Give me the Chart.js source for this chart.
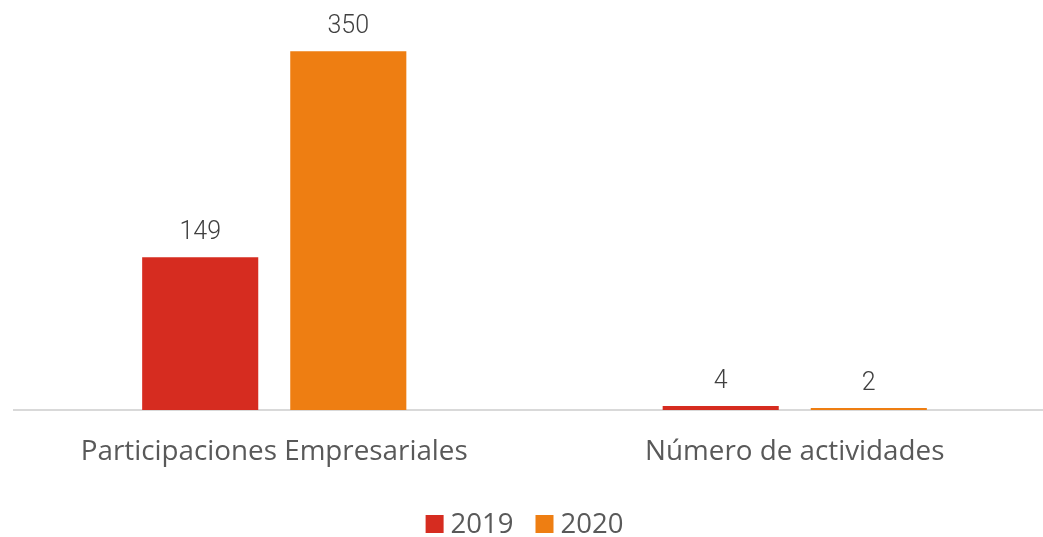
<!DOCTYPE html>
<html>
<head>
<meta charset="utf-8">
<script src="https://cdn.jsdelivr.net/npm/chart.js@4.4.0/dist/chart.umd.min.js"></script>
<style>
  html, body { margin: 0; padding: 0; background: #ffffff; overflow: hidden; }
  #wrap { width: 1060px; height: 537px; position: relative; }
</style>
</head>
<body>
<div id="wrap"><canvas id="c" width="1060" height="537"></canvas></div>
<script>
const categories = ["Participaciones Empresariales", "Número de actividades"];
const seriesNames = ["2019", "2020"];
const values2019 = [149, 4];
const values2020 = [350, 2];
const seriesColors = ["#D62C20", "#EE7E12"];

const valueLabelPlugin = {
  id: 'valueLabels',
  afterDatasetsDraw(chart) {
    const ctx = chart.ctx;
    ctx.save();
    ctx.font = '300 25px Roboto';
    ctx.fillStyle = '#404040';
    ctx.textAlign = 'center';
    ctx.textBaseline = 'alphabetic';
    chart.data.datasets.forEach((ds, di) => {
      const meta = chart.getDatasetMeta(di);
      meta.data.forEach((bar, i) => {
        ctx.fillText(String(ds.data[i]), bar.x, bar.y - 18);
      });
    });
    ctx.restore();
  }
};

const legendPlugin = {
  id: 'customLegend',
  afterDraw(chart) {
    const ctx = chart.ctx;
    ctx.save();
    ctx.font = '27.5px "Open Sans"';
    ctx.textBaseline = 'middle';
    ctx.textAlign = 'left';
    const box = 18, gapBoxText = 7, gapItems = 22;
    const items = chart.data.datasets.map(d => ({ label: d.label, color: d.backgroundColor, w: ctx.measureText(d.label).width }));
    let total = 0;
    items.forEach((it, i) => { total += box + gapBoxText + it.w + (i < items.length - 1 ? gapItems : 0); });
    let x = 524.5 - total / 2;
    const cy = 524;
    items.forEach(it => {
      ctx.fillStyle = it.color;
      ctx.fillRect(x, cy - box / 2, box, box);
      x += box + gapBoxText;
      ctx.fillStyle = '#595959';
      ctx.fillText(it.label, x, cy + 1);
      x += it.w + gapItems;
    });
    ctx.restore();
  }
};

new Chart(document.getElementById('c'), {
  type: 'bar',
  data: {
    labels: categories,
    datasets: [
      { label: seriesNames[0], data: values2019, backgroundColor: seriesColors[0] },
      { label: seriesNames[1], data: values2020, backgroundColor: seriesColors[1] }
    ]
  },
  options: {
    responsive: false,
    animation: false,
    devicePixelRatio: 1,
    layout: { padding: { left: 14, right: 5, top: 0, bottom: 0 } },
    datasets: { bar: { categoryPercentage: 0.569, barPercentage: 0.784 } },
    plugins: { legend: { display: false }, tooltip: { enabled: false } },
    scales: {
      x: {
        grid: { display: false, drawTicks: false },
        border: { display: true, color: '#D9D9D9', width: 2 },
        ticks: { color: '#595959', font: { family: 'Open Sans', size: 27.8 }, padding: 25 },
        afterFit(scale) { scale.height = 127; }
      },
      y: {
        display: false,
        min: 0,
        max: 400
      }
    }
  },
  plugins: [valueLabelPlugin, legendPlugin]
});
</script>
</body>
</html>
